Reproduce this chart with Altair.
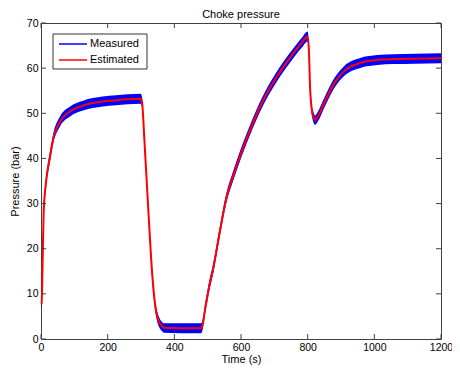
import altair as alt
import pandas as pd

# ---- data ----
time_s = [0, 2, 4, 6, 8, 14, 20, 26, 37, 57, 87, 126, 185, 225, 260, 299,
          303, 311, 322, 334, 344, 354, 362, 369, 420, 479, 482, 494, 506,
          516, 536, 556, 575, 595, 625, 664, 703, 743, 782, 800, 804, 807,
          812, 818, 822, 830, 851, 881, 910, 960, 1009, 1058, 1120, 1200]

estimated = [7.8, 8.0, 14.0, 21.5, 28.0, 34.0, 37.5, 40.0, 44.5, 48.2, 50.4,
             51.7, 52.6, 52.9, 53.1, 53.2, 52.5, 43.0, 28.5, 14.0, 6.7, 3.8,
             2.9, 2.5, 2.4, 2.4, 2.5, 7.4, 12.2, 15.4, 23.6, 31.2, 35.8, 40.1,
             45.9, 52.5, 57.6, 61.9, 65.6, 67.0, 63.4, 56.1, 51.0, 49.0, 48.5,
             49.2, 52.5, 56.8, 59.4, 61.2, 61.8, 62.0, 62.1, 62.2]

measured_hi = [8.8, 9.2, 15.2, 22.7, 29.1, 35.1, 38.6, 41.1, 45.6, 49.3, 51.5,
               52.8, 53.7, 54.0, 54.2, 54.3, 53.6, 44.1, 29.6, 15.1, 7.8, 4.9,
               3.9, 3.5, 3.5, 3.5, 3.6, 8.5, 13.3, 16.5, 24.7, 32.3, 36.9, 41.2,
               47.0, 53.6, 58.7, 63.0, 66.7, 68.1, 64.5, 57.2, 52.1, 50.1, 49.5,
               50.3, 53.6, 57.9, 60.5, 62.3, 62.9, 63.1, 63.2, 63.3]

measured_lo = [7.0, 7.0, 12.9, 20.4, 26.9, 32.9, 36.4, 38.9, 43.4, 47.1, 49.3,
               50.6, 51.5, 51.8, 52.0, 52.1, 51.4, 41.9, 27.4, 12.9, 5.6, 2.7,
               1.8, 1.4, 1.3, 1.3, 1.4, 6.3, 11.1, 14.3, 22.5, 30.1, 34.7, 39.0,
               44.8, 51.4, 56.5, 60.8, 64.5, 65.9, 62.3, 55.0, 49.9, 47.9, 47.4,
               48.1, 51.4, 55.7, 58.3, 60.1, 60.7, 60.9, 61.0, 61.1]

x_ticks = [0, 200, 400, 600, 800, 1000, 1200]
y_ticks = [0, 10, 20, 30, 40, 50, 60, 70]

series_names = ["Measured", "Estimated"]
series_colors = ["#0000ff", "#ff0000"]

# ---- tables ----
band = pd.DataFrame({"t": time_s, "lo": measured_lo, "hi": measured_hi})
est = pd.DataFrame({"t": time_s, "p": estimated})
xt = pd.DataFrame({"t": x_ticks})
yt = pd.DataFrame({"p": y_ticks})

W, H = 400, 316
FRAME = "#404040"
TL = 5

xscale = alt.Scale(domain=[0, 1200], nice=False, zero=False)
yscale = alt.Scale(domain=[0, 70], nice=False, zero=False)

xaxis = alt.Axis(values=x_ticks, ticks=False, domain=False, grid=False, format="d",
                 labelFontSize=10.5, labelColor="black", labelPadding=3,
                 title="Time (s)", titleFontSize=11, titleFontWeight="normal",
                 titleColor="black", titlePadding=1, labelFlush=False)
yaxis = alt.Axis(values=y_ticks, ticks=False, domain=False, grid=False, format="d",
                 labelFontSize=10.5, labelColor="black", labelPadding=3,
                 title="Pressure (bar)", titleFontSize=11, titleFontWeight="normal",
                 titleColor="black", titlePadding=6, labelFlush=False)

area = alt.Chart(band).mark_area(color=series_colors[0], opacity=1,
                                 interpolate="monotone").encode(
    x=alt.X("t:Q", scale=xscale, axis=xaxis),
    y=alt.Y("lo:Q", scale=yscale, axis=yaxis),
    y2="hi:Q",
)

est_line = alt.Chart(est).mark_line(color=series_colors[1], strokeWidth=2,
                                    interpolate="monotone").encode(
    x=alt.X("t:Q", scale=xscale),
    y=alt.Y("p:Q", scale=yscale),
)

xt_bottom = alt.Chart(xt).mark_rule(color=FRAME, strokeWidth=1).encode(
    x=alt.X("t:Q", scale=xscale), y=alt.value(H), y2=alt.value(H - TL))
xt_top = alt.Chart(xt).mark_rule(color=FRAME, strokeWidth=1).encode(
    x=alt.X("t:Q", scale=xscale), y=alt.value(0), y2=alt.value(TL))
yt_left = alt.Chart(yt).mark_rule(color=FRAME, strokeWidth=1).encode(
    y=alt.Y("p:Q", scale=yscale), x=alt.value(0), x2=alt.value(TL))
yt_right = alt.Chart(yt).mark_rule(color=FRAME, strokeWidth=1).encode(
    y=alt.Y("p:Q", scale=yscale), x=alt.value(W), x2=alt.value(W - TL))

# ---- legend box (MATLAB style, top-left inside the axes) ----
leg_src = pd.DataFrame({"k": [0]})
legend_box = alt.Chart(leg_src).mark_rect(fill="white", stroke="black",
                                          strokeWidth=0.8).encode(
    x=alt.value(12), x2=alt.value(106), y=alt.value(11), y2=alt.value(46))
legend_parts = [legend_box]
for i, (name, col) in enumerate(zip(series_names, series_colors)):
    yy = 21 + 16 * i
    src = pd.DataFrame({"label": [name]})
    legend_parts.append(
        alt.Chart(src).mark_rule(color=col, strokeWidth=1.5).encode(
            x=alt.value(18), x2=alt.value(46), y=alt.value(yy)))
    legend_parts.append(
        alt.Chart(src).mark_text(align="left", baseline="middle", fontSize=11,
                                 color="black").encode(
            x=alt.value(49), y=alt.value(yy), text="label:N"))

chart = alt.layer(area, est_line, xt_bottom, xt_top, yt_left, yt_right,
                  *legend_parts).properties(
    width=W, height=H,
    title=alt.TitleParams("Choke pressure", fontSize=11, fontWeight="normal",
                          color="black", offset=0, dy=2),
    autosize=alt.AutoSizeParams(type="none"),
    padding={"left": 33, "top": 15, "right": 11, "bottom": 30},
).configure(font="Liberation Sans").configure_view(
    stroke=FRAME, strokeWidth=1
)

chart.save("out.html", embed_options={"renderer": "svg", "actions": False})
